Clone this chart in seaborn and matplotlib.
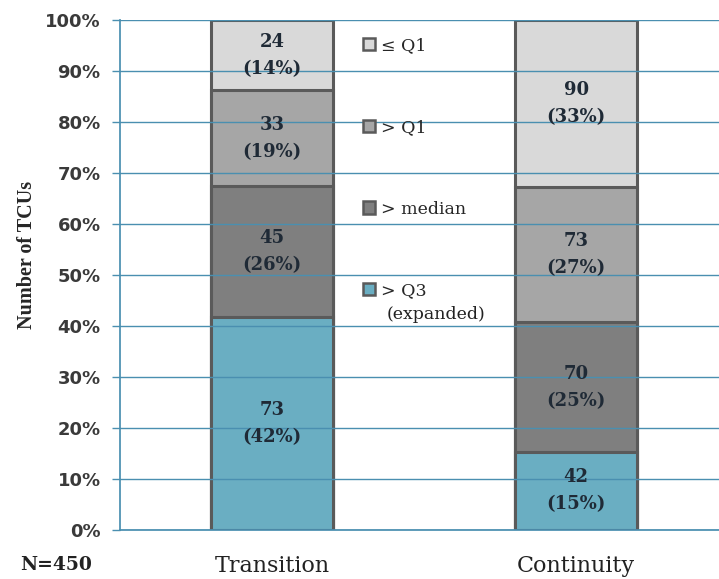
"""
Stacked 100% bars: TCU counts by quartile group, Transition vs Continuity
"""

import matplotlib
matplotlib.use("Agg")
import matplotlib.pyplot as plt
from matplotlib.patches import Patch
import seaborn as sns
import numpy as np
import pandas as pd

# Data (bottom to top of each stack)
categories = ["Transition", "Continuity"]
groups = ["> Q3", "> median", "> Q1", "\u2264 Q1"]
transition_counts = [73, 45, 33, 24]
continuity_counts = [42, 70, 73, 90]
n_total = 450

group_colors = ["#6aaec2", "#7f7f7f", "#a6a6a6", "#d9d9d9"]
edge_color = "#5a5a5a"
grid_color = "#4a8fb0"

sns.set_theme(style="white")
plt.rcParams["font.family"] = ["DejaVu Serif"]

counts = np.array([transition_counts, continuity_counts], dtype=float)
pcts = counts / counts.sum(axis=1, keepdims=True) * 100
cum = np.cumsum(pcts, axis=1)

fig = plt.figure(figsize=(7.19, 5.79), dpi=100)
ax = fig.add_axes([0.167, 0.085, 0.833, 0.88])

# draw cumulative heights from top layer down so lower layers overlay
for i in reversed(range(len(groups))):
    df = pd.DataFrame({"cat": categories, "val": cum[:, i]})
    sns.barplot(
        data=df, x="cat", y="val", color=group_colors[i], width=0.4,
        edgecolor=edge_color, linewidth=2.2, saturation=1, ax=ax, zorder=2,
    )

# value labels
for j in range(len(categories)):
    for i in range(len(groups)):
        y_mid = cum[j, i] - pcts[j, i] / 2
        ax.text(
            j, y_mid, f"{int(counts[j, i])}\n({pcts[j, i]:.0f}%)",
            ha="center", va="center", fontsize=13, fontweight="bold",
            color="#1f2a36", linespacing=1.65, zorder=4,
        )

ax.set_ylim(0, 100)
ax.set_xlim(-0.5, 1.47)
ax.set_yticks(np.arange(0, 101, 10))
ax.set_yticklabels([f"{v}%" for v in range(0, 101, 10)],
                   fontfamily="DejaVu Sans", fontweight="bold",
                   fontsize=13, color="#3a3a3a")
ax.set_xticks([0, 1])
ax.set_xticklabels(categories, fontsize=16, color="#222222")
ax.set_xticks([0.5], minor=True)
ax.tick_params(axis="x", which="major", length=0, pad=18)
ax.tick_params(axis="x", which="minor", length=5, color=grid_color, width=1)
ax.tick_params(axis="y", length=6, color=grid_color, width=1, left=True, pad=8)

ax.set_xlabel("")
ax.set_ylabel("Number of TCUs", fontsize=14.5, fontweight="bold",
              fontfamily="Liberation Serif")
ax.yaxis.set_label_coords(-0.138, 0.54)

ax.yaxis.grid(True, color=grid_color, linewidth=1.0, zorder=3)
ax.set_axisbelow(False)
for s in ["top", "right"]:
    ax.spines[s].set_visible(False)
ax.spines["left"].set_color(grid_color)
ax.spines["bottom"].set_color(grid_color)

# legend
handles = [Patch(facecolor=group_colors[i], edgecolor=edge_color, linewidth=1.8)
           for i in reversed(range(len(groups)))]
leg = ax.legend(handles, list(reversed(groups)), loc="upper left",
                bbox_to_anchor=(0.38, 0.997), frameon=False, fontsize=12.5,
                handlelength=0.7, handleheight=0.7, handletextpad=0.3,
                labelspacing=3.72)
ax.annotate("(expanded)", xy=(0, 0), xycoords=leg.get_texts()[-1],
            xytext=(4, -5), textcoords="offset points", va="top",
            fontsize=12.5, color="#222222", zorder=10)

fig.text(0.028, 0.016, f"N={n_total}", fontsize=13.5, fontweight="bold",
         color="#222222")

fig.savefig("out.png", dpi=100)
